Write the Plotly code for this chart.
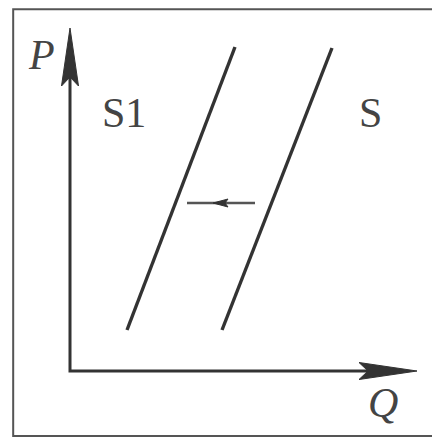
import plotly.graph_objects as go

# Supply shift diagram: quantity Q on x, price P on y (origin at the axes corner)
q_axis_end = 347
p_axis_end = 343

# supply curves, endpoints (Q, P)
s1_q = [57, 165]
s1_p = [41, 324]
s_q = [152, 262]
s_p = [41, 323]

# shift arrow from S towards S1
shift_q = [185, 117]
shift_p = [168, 168]

labels = ["P", "Q", "S1", "S"]
label_q = [-29, 313, 54, 300]
label_p = [316, -32, 258, 258]

ink = "#333333"
fig = go.Figure()


def arrow_head(tip_x, tip_y, dx, dy, length, width, notch):
    # stealth-style head pointing along (dx, dy)
    nx, ny = -dy, dx
    bx, by = tip_x - dx * length, tip_y - dy * length
    mx, my = tip_x - dx * (length - notch), tip_y - dy * (length - notch)
    xs = [tip_x, bx + nx * width / 2, mx, bx - nx * width / 2, tip_x]
    ys = [tip_y, by + ny * width / 2, my, by - ny * width / 2, tip_y]
    return go.Scatter(x=xs, y=ys, mode="lines", fill="toself", fillcolor=ink,
                      line=dict(color=ink, width=1), hoverinfo="skip", showlegend=False)


# axes
fig.add_trace(go.Scatter(x=[0, 0, q_axis_end - 20], y=[p_axis_end - 20, 0, 0], mode="lines",
                         line=dict(color=ink, width=3), showlegend=False))
fig.add_trace(arrow_head(0, p_axis_end, 0, 1, 58, 17, 9))
fig.add_trace(arrow_head(q_axis_end, 0, 1, 0, 58, 17, 9))

# supply curves
for xs, ys in [(s1_q, s1_p), (s_q, s_p)]:
    fig.add_trace(go.Scatter(x=xs, y=ys, mode="lines", line=dict(color=ink, width=3.4),
                             showlegend=False))

# shift arrow
fig.add_trace(go.Scatter(x=shift_q, y=shift_p, mode="lines", line=dict(color="#555", width=2.4),
                         showlegend=False))
mid = (shift_q[0] + shift_q[1]) / 2 - 8
fig.add_trace(arrow_head(mid, shift_p[0], -1, 0, 15, 8, 3))

for t, x, y in zip(labels, label_q, label_p):
    italic = t in ("P", "Q")
    fig.add_annotation(x=x, y=y, text=f"<i>{t}</i>" if italic else t, showarrow=False,
                       font=dict(family="Liberation Serif", size=42, color="#444"))

# frame around the figure
fig.add_shape(type="rect", xref="paper", yref="paper", x0=0.012, x1=0.988, y0=0.007, y1=0.997,
              line=dict(color="#555", width=2))

# page body adds an 8px offset, so the figure is 8px smaller than the window
fig.update_layout(
    width=432, height=431,
    margin=dict(l=0, r=0, t=0, b=0),
    paper_bgcolor="white", plot_bgcolor="white",
    xaxis=dict(range=[-62, 370], visible=False),
    yaxis=dict(range=[-68, 363], visible=False),
)

fig.write_html("out.html")
